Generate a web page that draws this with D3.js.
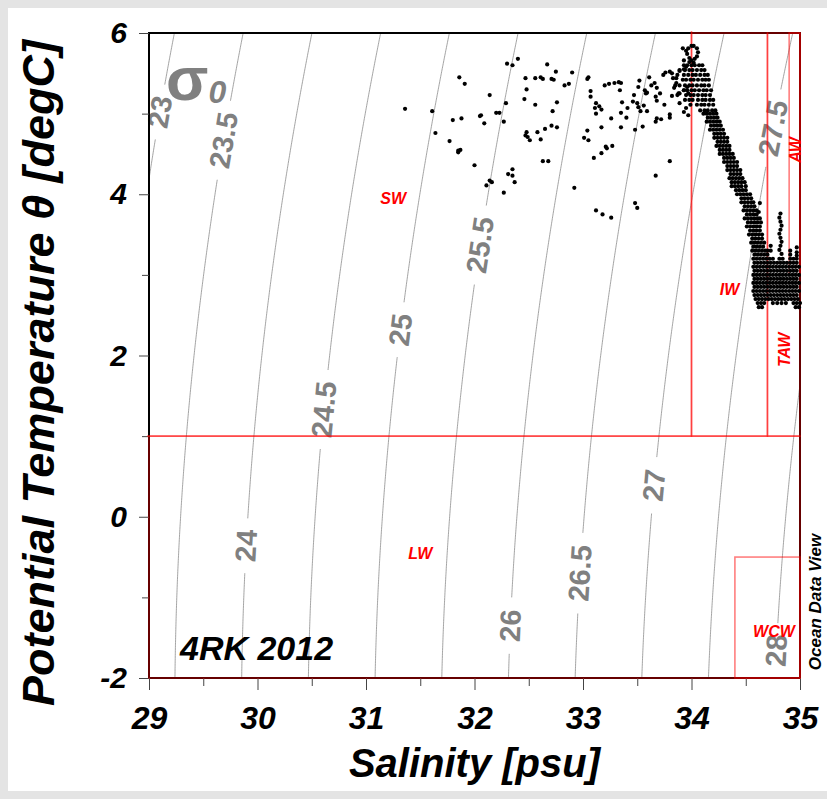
<!DOCTYPE html>
<html><head><meta charset="utf-8">
<script src="https://cdn.jsdelivr.net/npm/d3@7"></script>
<style>
html,body{margin:0;padding:0;background:#e4e4e4;}
svg{display:block;}
</style></head><body>
<svg id="chart" width="827" height="799"></svg>
<script>
// ---------- data ----------
const xTicks=[29,30,31,32,33,34,35];
const xMinorTicks=[29.5,30.5,31.5,32.5,33.5,34.5];
const yTicks=[-2,0,2,4,6];
const yMinorTicks=[-1,1,3,5];
const sigmaLevels=[23,23.5,24,24.5,25,25.5,26,26.5,27,27.5,28];
const sigmaLabelT=[5.02,4.67,-0.36,1.33,2.32,3.37,-1.35,-0.70,0.39,4.82,-1.66];
const massNames=["SW","LW","IW","TAW","AW","WCW"];
const massSmin=[28,29,34,34.7,34.9,34.4];
const massSmax=[34,35,34.7,35,35,35];
const massTmin=[1,-2,1,1,3,-2];
const massTmax=[7,1,6,6,6,-0.5];
const massLabelS=[31.25,31.5,34.35,34.86,34.96,34.76];
const massLabelT=[3.95,-0.46,2.82,2.07,4.55,-1.42];
const massLabelRot=[0,0,0,-90,-90,0];

const scatterPoints=[
[31.36,5.06],[31.61,5.03],[31.64,4.76],[31.86,5.45],[31.91,5.37],[31.80,4.92],[31.88,4.94],[31.77,4.66],[31.85,4.54],[31.87,4.55],[31.85,4.52],[32.00,4.36],[32.14,5.23],[32.05,4.97],[32.06,4.98],[32.09,4.88],[32.20,5.01],[32.23,5.01],[32.27,4.90],[32.29,5.13],[32.30,5.62],[32.35,5.60],[32.40,5.68],[32.14,4.17],[32.16,4.15],[32.11,4.11],[32.27,4.02],[32.31,4.25],[32.35,4.23],[32.35,4.31],[32.37,4.15],[32.47,5.44],[32.48,5.30],[32.46,5.18],[32.56,5.44],[32.61,5.45],[32.63,5.43],[32.67,5.61],[32.71,5.43],[32.73,5.42],[32.56,5.11],[32.47,4.73],[32.49,4.71],[32.51,4.67],[32.48,4.77],[32.58,4.77],[32.61,4.68],[32.65,4.81],[32.71,4.85],[32.76,4.83],[32.72,5.03],[32.76,5.14],[32.63,4.41],[32.68,4.41],[32.75,5.52],[32.83,5.35],[32.87,5.37],[32.90,5.51],[32.92,4.08],[33.04,5.43],[33.05,5.45],[33.07,5.28],[33.07,5.21],[33.12,5.13],[33.11,5.07],[33.15,5.09],[33.17,5.05],[33.12,5.00],[33.20,5.35],[33.24,5.37],[33.29,5.38],[33.33,5.39],[33.35,5.38],[33.34,5.29],[33.36,5.14],[33.26,4.94],[33.35,5.01],[33.40,4.95],[33.17,4.83],[33.35,4.83],[33.04,4.79],[33.01,4.70],[33.05,4.67],[33.21,4.59],[33.22,4.57],[33.27,4.60],[33.17,4.51],[33.10,4.45],[33.12,3.80],[33.18,3.75],[33.26,3.71],[33.41,5.07],[33.46,5.15],[33.50,5.13],[33.51,5.08],[33.47,5.23],[33.52,5.41],[33.51,5.33],[33.53,5.03],[33.59,5.03],[33.56,5.10],[33.55,4.84],[33.48,4.80],[33.57,5.29],[33.59,5.26],[33.58,5.25],[33.61,5.45],[33.63,5.35],[33.66,5.38],[33.68,5.32],[33.67,5.21],[33.68,5.16],[33.71,5.25],[33.67,4.90],[33.68,4.94],[33.72,4.93],[33.75,5.11],[33.80,4.99],[33.80,4.95],[33.80,4.41],[33.67,4.23],[33.48,3.89],[33.50,3.83],[33.74,5.48],[33.76,5.51],[33.80,5.52],[33.83,5.44],[33.86,5.38],[33.89,5.53],[33.93,5.55],[33.95,5.58],[33.88,5.25],[33.93,5.29],[33.96,5.33],[33.89,5.13],[33.97,5.25],[33.97,4.98],[33.82,5.50],[33.86,5.44],[33.84,5.32],[33.89,5.25],[33.82,5.22],[33.93,5.02],[33.95,5.07],
[33.97,5.81],[34.00,5.84],[34.02,5.84],[34.05,5.81],[34.06,5.76],[34.05,5.71],[34.03,5.68],[34.00,5.66],[33.98,5.69],[33.96,5.74],[33.95,5.78],[33.98,5.64],[34.02,5.63],[33.92,5.81],[33.93,5.66],
[34.82,3.76],[34.81,3.71],[34.82,3.66],[34.83,3.61],[34.82,3.56],[34.81,3.51],[34.82,3.46],[34.83,3.41],[34.82,3.36],[34.81,3.31],[34.83,3.26],[34.73,3.36],[34.73,3.30],[34.91,3.30],[34.91,3.25],[34.97,3.34],[34.97,3.28],[34.97,3.24],[34.63,3.89],[34.62,3.78]
];

const denseRows=[
[5.60,[33.93,33.96,34.00,34.03,34.07,34.10]],
[5.54,[33.89,33.94,33.98,34.01,34.05,34.09,34.12]],
[5.48,[33.87,33.93,33.97,34.01,34.04,34.08,34.12,34.15]],
[5.42,[33.92,33.95,33.99,34.02,34.06,34.10,34.13,34.16]],
[5.35,[33.85,33.89,33.94,33.98,34.01,34.05,34.09,34.12,34.16]],
[5.29,[33.93,33.96,34.00,34.03,34.07,34.11,34.14,34.18]],
[5.23,[33.87,33.95,33.99,34.02,34.06,34.10,34.13,34.17]],
[5.17,[33.94,33.98,34.01,34.06,34.10,34.13,34.17,34.20]],
[5.11,[33.99,34.05,34.09,34.12,34.16,34.20]],
[5.04,[34.08,34.12,34.15,34.19,34.22]],
[5.00,[34.11,34.14,34.17,34.20,34.23]],
[4.95,[34.15,34.18,34.21,34.24]],
[4.90,[34.14,34.17,34.20,34.23,34.26]],
[4.85,[34.18,34.21,34.24,34.27]],
[4.80,[34.17,34.20,34.23,34.26,34.29]],
[4.75,[34.21,34.24,34.27,34.30]],
[4.70,[34.21,34.24,34.27,34.30,34.33]],
[4.65,[34.24,34.27,34.30,34.33]],
[4.60,[34.23,34.26,34.29,34.32,34.35]],
[4.55,[34.26,34.29,34.32,34.35]],
[4.50,[34.26,34.29,34.32,34.35,34.38]],
[4.45,[34.30,34.33,34.36,34.39]],
[4.40,[34.30,34.33,34.36,34.39,34.42]],
[4.35,[34.33,34.36,34.39,34.42]],
[4.30,[34.33,34.36,34.39,34.42,34.45]],
[4.25,[34.36,34.39,34.42,34.45]],
[4.20,[34.35,34.38,34.41,34.44,34.47]],
[4.15,[34.37,34.40,34.43,34.46,34.49]],
[4.10,[34.37,34.40,34.43,34.46,34.50]],
[4.05,[34.41,34.44,34.47,34.50]],
[4.00,[34.42,34.45,34.48,34.51,34.54]],
[3.95,[34.46,34.49,34.52,34.55]],
[3.90,[34.46,34.49,34.52,34.55,34.57]],
[3.85,[34.49,34.52,34.55,34.58]],
[3.80,[34.48,34.51,34.54,34.57,34.60]],
[3.75,[34.51,34.54,34.57,34.60]],
[3.70,[34.49,34.52,34.55,34.58,34.61,34.63]],
[3.65,[34.52,34.55,34.58,34.61,34.64]],
[3.60,[34.51,34.54,34.57,34.60,34.63]],
[3.55,[34.54,34.57,34.60,34.63]],
[3.50,[34.53,34.56,34.59,34.62,34.65]],
[3.45,[34.56,34.59,34.62,34.65]],
[3.40,[34.55,34.58,34.61,34.64,34.67]],
[3.35,[34.57,34.60,34.63,34.66]],
[3.30,[34.56,34.59,34.62,34.65,34.68,34.70]],
[3.25,[34.58,34.61,34.64,34.67,34.70]],
[3.20,[34.57,34.60,34.63,34.66,34.69,34.72,34.75,34.81,34.84,34.91,34.94,34.97]],
[3.15,[34.58,34.61,34.64,34.67,34.70,34.73,34.76,34.79,34.82,34.85,34.88,34.91,34.94,34.97]],
[3.10,[34.57,34.60,34.63,34.66,34.69,34.72,34.75,34.78,34.81,34.84,34.87,34.90,34.93,34.96,34.99]],
[3.05,[34.58,34.61,34.64,34.67,34.70,34.73,34.76,34.79,34.82,34.85,34.88,34.91,34.94,34.97]],
[3.00,[34.57,34.60,34.63,34.66,34.69,34.72,34.75,34.78,34.81,34.84,34.87,34.90,34.93,34.96,34.99]],
[2.95,[34.58,34.61,34.64,34.67,34.70,34.73,34.76,34.79,34.82,34.85,34.88,34.91,34.94,34.97]],
[2.90,[34.57,34.60,34.63,34.66,34.69,34.72,34.75,34.78,34.81,34.84,34.87,34.90,34.93,34.96,34.99]],
[2.85,[34.58,34.61,34.64,34.67,34.70,34.73,34.76,34.79,34.82,34.85,34.88,34.91,34.94,34.97]],
[2.80,[34.57,34.60,34.63,34.66,34.69,34.72,34.75,34.78,34.81,34.84,34.87,34.90,34.93,34.96,34.99]],
[2.75,[34.58,34.61,34.64,34.67,34.70,34.73,34.76,34.79,34.82,34.85,34.88,34.91,34.94,34.97]],
[2.70,[34.59,34.62,34.65,34.68,34.71,34.74,34.77,34.80,34.83,34.86,34.89,34.92,34.95,34.98]],
[2.65,[34.61,34.64,34.67,34.75,34.79,34.83,34.87,34.94,34.97,35.00]],
[2.60,[34.62,34.65,34.96,34.99]]
];

// ---------- chart ----------
const svg=d3.select("#chart");
const W=827,H=799;
const L=149,R=800,T0=33,B=678;
const x=d3.scaleLinear().domain([29,35]).range([L,R]);
const y=d3.scaleLinear().domain([-2,6]).range([B,T0]);
const FONT="'Liberation Sans', Arial, Helvetica, sans-serif";

svg.append("rect").attr("x",8).attr("y",8).attr("width",W-8).attr("height",783).attr("fill","#fff");

const defs=svg.append("defs");
defs.append("clipPath").attr("id","plotclip")
  .append("rect").attr("x",L).attr("y",T0).attr("width",R-L).attr("height",B-T0);
defs.append("clipPath").attr("id","plotclip2")
  .append("rect").attr("x",L-2).attr("y",T0-2).attr("width",R-L+4).attr("height",B-T0+4);

// UNESCO EOS-80 potential density anomaly at p=0
function sigma0(S,t){
  const rw=999.842594+6.793952e-2*t-9.095290e-3*t*t+1.001685e-4*t*t*t-1.120083e-6*t**4+6.536332e-9*t**5;
  const A=0.824493-4.0899e-3*t+7.6438e-5*t*t-8.2467e-7*t*t*t+5.3875e-9*t**4;
  const Bc=-5.72466e-3+1.0227e-4*t-1.6546e-6*t*t;
  const C=4.8314e-4;
  return rw+A*S+Bc*Math.pow(S,1.5)+C*S*S-1000;
}
function salAt(level,t){
  let lo=0,hi=45;
  for(let i=0;i<60;i++){const m=(lo+hi)/2; if(sigma0(m,t)<level) lo=m; else hi=m;}
  return (lo+hi)/2;
}

const gC=svg.append("g").attr("clip-path","url(#plotclip)");
const gLab=svg.append("g");
const line=d3.line();
const Ts=d3.range(-2.6,6.62,0.02);
sigmaLevels.forEach((lv,i)=>{
  const pts=Ts.map(t=>[x(salAt(lv,t)),y(t)]);
  const lt=sigmaLabelT[i];
  const cx=x(salAt(lv,lt)), cy=y(lt);
  const pA=[x(salAt(lv,lt-0.2)),y(lt-0.2)], pB=[x(salAt(lv,lt+0.2)),y(lt+0.2)];
  const ang=Math.atan2(pB[1]-pA[1],pB[0]-pA[0])*180/Math.PI;
  const txt=gLab.append("text").attr("transform",`translate(${cx},${cy}) rotate(${ang})`)
    .attr("text-anchor","middle").attr("dominant-baseline","central")
    .attr("font-family",FONT).attr("font-weight","bold").attr("font-size",29)
    .attr("fill","#808080").text(String(lv));
  const half=txt.node().getComputedTextLength()/2+11;
  const segs=[];let cur=[];
  pts.forEach(p=>{
    if(Math.hypot(p[0]-cx,p[1]-cy)<half){ if(cur.length>1) segs.push(cur); cur=[]; }
    else cur.push(p);
  });
  if(cur.length>1) segs.push(cur);
  segs.forEach(s=>gC.append("path").attr("d",line(s)).attr("fill","none").attr("stroke","#8c8c8c").attr("stroke-width",0.8));
});

// frame
svg.append("rect").attr("x",L).attr("y",T0).attr("width",R-L).attr("height",B-T0)
  .attr("fill","none").attr("stroke","#000").attr("stroke-width",2);

// axes ticks
const yAx=svg.append("g").attr("transform",`translate(${L},0)`)
  .call(d3.axisLeft(y).tickValues(yTicks).tickSize(10).tickPadding(12).tickFormat(d=>String(d)));
const yMin=svg.append("g").attr("transform",`translate(${L},0)`)
  .call(d3.axisLeft(y).tickValues(yMinorTicks).tickSize(7).tickFormat(""));
const xAx=svg.append("g").attr("transform",`translate(0,${B})`)
  .call(d3.axisBottom(x).tickValues(xTicks).tickSize(12).tickPadding(16).tickFormat(d=>String(d)));
const xMin=svg.append("g").attr("transform",`translate(0,${B})`)
  .call(d3.axisBottom(x).tickValues(xMinorTicks).tickSize(8).tickFormat(""));
[yAx,yMin,xAx,xMin].forEach(g=>{g.select(".domain").remove();g.selectAll(".tick line").attr("stroke","#444").attr("stroke-width",1);});
yAx.selectAll("text").attr("font-family",FONT).attr("font-weight","bold").attr("font-style","italic").attr("font-size",30).attr("fill","#000");
xAx.selectAll("text").attr("font-family",FONT).attr("font-weight","bold").attr("font-style","italic").attr("font-size",32).attr("fill","#000");

// water mass boxes
const gBox=svg.append("g").attr("clip-path","url(#plotclip2)");
massNames.forEach((n,i)=>{
  const x0=x(massSmin[i]),x1=x(massSmax[i]),y0=y(massTmax[i]),y1=y(massTmin[i]);
  gBox.append("rect").attr("x",x0).attr("y",y0).attr("width",x1-x0).attr("height",y1-y0)
    .attr("fill","none").attr("stroke","rgba(255,0,0,0.5)").attr("stroke-width",1.6);
});

// scatter points
const allPts=scatterPoints.slice();
denseRows.forEach(r=>r[1].forEach(s=>allPts.push([s,r[0]])));
svg.append("g").selectAll("circle").data(allPts).join("circle")
  .attr("cx",d=>x(d[0])).attr("cy",d=>y(d[1])).attr("r",2.1).attr("fill","#000");

// water mass labels
massNames.forEach((n,i)=>{
  svg.append("text").attr("transform",`translate(${x(massLabelS[i])},${y(massLabelT[i])}) rotate(${massLabelRot[i]})`)
    .attr("text-anchor","middle").attr("dominant-baseline","central")
    .attr("font-family",FONT).attr("font-weight","bold").attr("font-style","italic").attr("font-size",16)
    .attr("fill","#ff0000").text(n);
});

// sigma0 label
const sg=svg.append("text").attr("x",166).attr("y",100).attr("font-family",FONT).attr("font-weight","bold").attr("fill","#808080");
sg.append("tspan").attr("font-size",62).text("σ");
sg.append("tspan").attr("font-size",32).attr("font-style","italic").attr("dy",3).text("0");

// cruise label
svg.append("text").attr("x",180).attr("y",660).attr("font-family",FONT).attr("font-weight","bold").attr("font-style","italic")
  .attr("font-size",34).attr("fill","#000").text("4RK 2012");

// axis titles
svg.append("text").attr("x",(L+R)/2).attr("y",777).attr("text-anchor","middle").attr("font-family",FONT)
  .attr("font-weight","bold").attr("font-style","italic").attr("font-size",40).attr("fill","#000").text("Salinity [psu]");
svg.append("text").attr("transform","translate(54,373) rotate(-90)").attr("text-anchor","middle").attr("font-family",FONT)
  .attr("font-weight","bold").attr("font-style","italic").attr("font-size",45).attr("fill","#000").text("Potential Temperature θ [degC]");
svg.append("text").attr("transform","translate(821,602) rotate(-90)").attr("text-anchor","middle").attr("font-family",FONT)
  .attr("font-weight","bold").attr("font-style","italic").attr("font-size",17).attr("fill","#000").text("Ocean Data View");
</script>
</body></html>
